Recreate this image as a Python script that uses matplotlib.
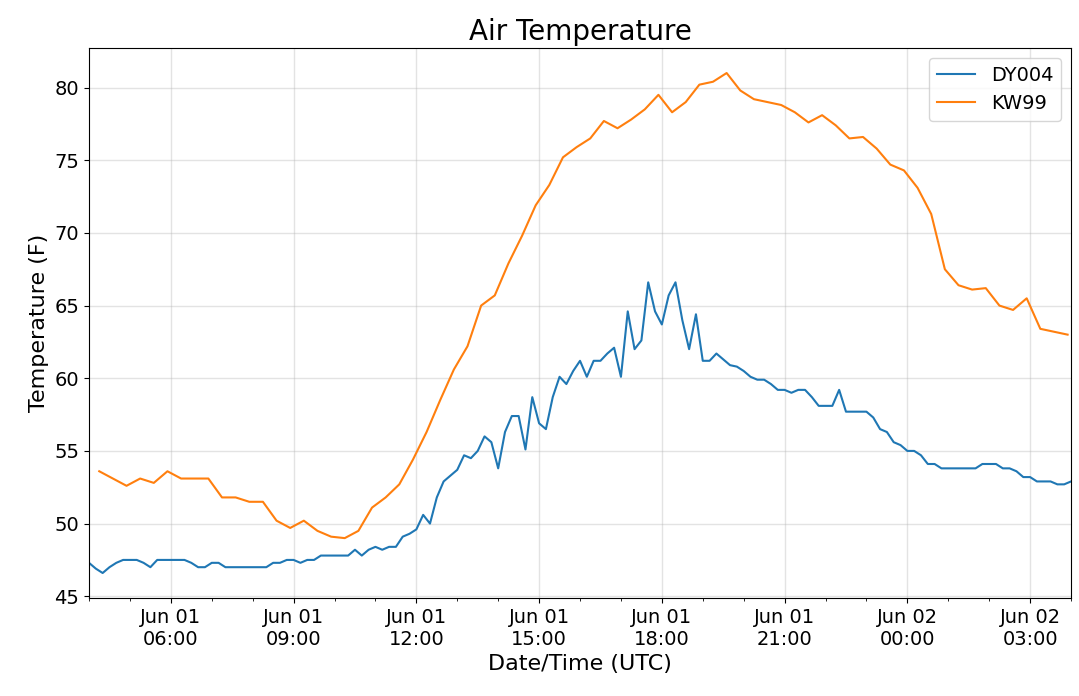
import matplotlib
matplotlib.use("Agg")
import matplotlib.pyplot as plt
import matplotlib.dates as mdates
import pandas as pd

# DY004: 10 minute readings, KW99: 20 minute readings (deg F)
dy004_start = "2019-06-01 04:00"
kw99_start = "2019-06-01 04:15"

dy004_temp = [
    47.3, 46.9, 46.6, 47.0, 47.3, 47.5, 47.5, 47.5, 47.3, 47.0,
    47.5, 47.5, 47.5, 47.5, 47.5, 47.3, 47.0, 47.0, 47.3, 47.3,
    47.0, 47.0, 47.0, 47.0, 47.0, 47.0, 47.0, 47.3, 47.3, 47.5,
    47.5, 47.3, 47.5, 47.5, 47.8, 47.8, 47.8, 47.8, 47.8, 48.2,
    47.8, 48.2, 48.4, 48.2, 48.4, 48.4, 49.1, 49.3, 49.6, 50.6,
    50.0, 51.8, 52.9, 53.3, 53.7, 54.7, 54.5, 55.0, 56.0, 55.6,
    53.8, 56.3, 57.4, 57.4, 55.1, 58.7, 56.9, 56.5, 58.7, 60.1,
    59.6, 60.5, 61.2, 60.1, 61.2, 61.2, 61.7, 62.1, 60.1, 64.6,
    62.0, 62.6, 66.6, 64.6, 63.7, 65.7, 66.6, 64.0, 62.0, 64.4,
    61.2, 61.2, 61.7, 61.3, 60.9, 60.8, 60.5, 60.1, 59.9, 59.9,
    59.6, 59.2, 59.2, 59.0, 59.2, 59.2, 58.7, 58.1, 58.1, 58.1,
    59.2, 57.7, 57.7, 57.7, 57.7, 57.3, 56.5, 56.3, 55.6, 55.4,
    55.0, 55.0, 54.7, 54.1, 54.1, 53.8, 53.8, 53.8, 53.8, 53.8,
    53.8, 54.1, 54.1, 54.1, 53.8, 53.8, 53.6, 53.2, 53.2, 52.9,
    52.9, 52.9, 52.7, 52.7, 52.9,
]

kw99_temp = [
    53.6, 53.1, 52.6, 53.1, 52.8, 53.6, 53.1, 53.1, 53.1, 51.8,
    51.8, 51.5, 51.5, 50.2, 49.7, 50.2, 49.5, 49.1, 49.0, 49.5,
    51.1, 51.8, 52.7, 54.4, 56.3, 58.5, 60.6, 62.2, 65.0, 65.7,
    67.9, 69.8, 71.9, 73.3, 75.2, 75.9, 76.5, 77.7, 77.2, 77.8,
    78.5, 79.5, 78.3, 79.0, 80.2, 80.4, 81.0, 79.8, 79.2, 79.0,
    78.8, 78.3, 77.6, 78.1, 77.4, 76.5, 76.6, 75.8, 74.7, 74.3,
    73.1, 71.3, 67.5, 66.4, 66.1, 66.2, 65.0, 64.7, 65.5, 63.4,
    63.2, 63.0,
]

dy004_time = pd.date_range(dy004_start, periods=len(dy004_temp), freq="10min")
kw99_time = pd.date_range(kw99_start, periods=len(kw99_temp), freq="20min")

fig, ax = plt.subplots(figsize=(10.79, 6.96), dpi=100)
fig.subplots_adjust(left=0.0825, right=0.9926, top=0.931, bottom=0.1408)

ax.plot(dy004_time, dy004_temp, color="tab:blue", lw=1.5, label="DY004")
ax.plot(kw99_time, kw99_temp, color="tab:orange", lw=1.5, label="KW99")

ax.set_xlim(dy004_time[0], dy004_time[-1])
ax.xaxis.set_major_locator(mdates.HourLocator(byhour=range(0, 24, 3)))
ax.xaxis.set_minor_locator(mdates.HourLocator())
ax.xaxis.set_major_formatter(mdates.DateFormatter("%b %d\n%H:%M"))

ax.grid(which="major", color="#b0b0b0", alpha=0.35, lw=1)
ax.tick_params(labelsize=14)

ax.set_title("Air Temperature", fontsize=20)
ax.set_xlabel("Date/Time (UTC)", fontsize=16)
ax.set_ylabel("Temperature (F)", fontsize=16)
ax.legend(loc="upper right", fontsize=14)

fig.savefig("out.png", dpi=100)
